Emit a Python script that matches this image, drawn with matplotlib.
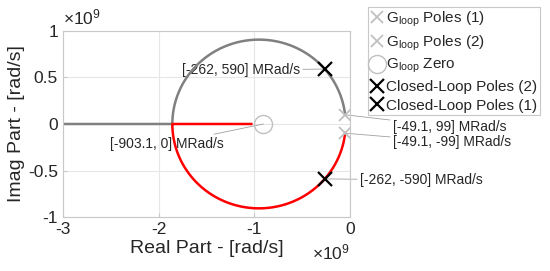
import numpy as np
import matplotlib
matplotlib.use('Agg')
import matplotlib.pyplot as plt

plt.rcParams.update({
    'font.family': ['Liberation Sans', 'DejaVu Sans'],
    'mathtext.fontset': 'custom',
    'mathtext.rm': 'Liberation Sans',
    'mathtext.it': 'Liberation Sans:italic',
    'axes.unicode_minus': False,
    'text.color': '#262626',
    'axes.labelcolor': '#262626',
    'xtick.color': '#262626',
    'ytick.color': '#262626',
})

# open-loop poles / zero (rad/s)
loop_pole = complex(-49.1e6, 99e6)
loop_zero = -903.1e6
# zero of the locus equation (circle centre)
locus_zero = -950e6
gain_max = 12.15e9

# chosen closed-loop poles (rad/s)
cl_pole = complex(-262e6, 590e6)

# axis ticks
x_ticks = [-3e9, -2e9, -1e9, 0]
x_ticklabels = ['-3', '-2', '-1', '0']
y_ticks = [-1e9, -0.5e9, 0, 0.5e9, 1e9]
y_ticklabels = ['-1', '-0.5', '0', '0.5', '1']

# data labels
ann_labels = ['[-262, 590] MRad/s', '[-903.1, 0] MRad/s', '[-49.1, 99] MRad/s',
              '[-49.1, -99] MRad/s', '[-262, -590] MRad/s']

# root locus: (s-p)(s-p*) + K (s - z) = 0
a1 = -2 * loop_pole.real
a0 = abs(loop_pole) ** 2
# break-in gain (double root)
kb = max(np.roots([1.0, 2 * a1 + 4 * locus_zero, a1 ** 2 - 4 * a0]).real)
offs = kb * np.logspace(-8, 0, 800)
gains = np.concatenate([np.linspace(0, gain_max, 3000), kb - offs[offs < kb], kb + offs, [kb]])
gains = np.sort(np.unique(gains[(gains >= 0) & (gains <= gain_max)]))
br1, br2 = [], []
for k in gains:
    r = np.roots([1.0, a1 + k, a0 - k * locus_zero])
    if abs(r[0].imag) > 1e-3:
        r = sorted(r, key=lambda c: -c.imag)
    else:
        r = sorted(r.real)
    br1.append(r[0])
    br2.append(r[1])
br1 = np.array(br1, dtype=complex)
br2 = np.array(br2, dtype=complex)

fig = plt.figure(figsize=(5.5, 2.71), dpi=100)
ax = fig.add_axes([0.1145, 0.199, 0.5215, 0.687])

ax.plot(br1.real, br1.imag, color='#808080', lw=1.8, zorder=2, solid_joinstyle='round')
ax.plot(br2.real, br2.imag, color='red', lw=1.8, zorder=2, solid_joinstyle='round')

h1, = ax.plot(loop_pole.real, loop_pole.imag, 'x', color='#c0c0c0', ms=9, mew=1.3,
              label=r'G$_{\rm loop}$ Poles (1)', zorder=3)
h2, = ax.plot(loop_pole.real, -loop_pole.imag, 'x', color='#c0c0c0', ms=9, mew=1.3,
              label=r'G$_{\rm loop}$ Poles (2)', zorder=3)
h3, = ax.plot(loop_zero, 0, 'o', mfc='none', mec='#c0c0c0', ms=13, mew=1.0,
              label=r'G$_{\rm loop}$ Zero', zorder=3)
h4, = ax.plot(cl_pole.real, -cl_pole.imag, 'x', color='black', ms=10, mew=1.6,
              label='Closed-Loop Poles (2)', zorder=4)
h5, = ax.plot(cl_pole.real, cl_pole.imag, 'x', color='black', ms=10, mew=1.6,
              label='Closed-Loop Poles (1)', zorder=4)

ax.set_xlim(-3e9, 0)
ax.set_ylim(-1e9, 1e9)
ax.set_xticks(x_ticks)
ax.set_xticklabels(x_ticklabels)
ax.set_yticks(y_ticks)
ax.set_yticklabels(y_ticklabels)
ax.grid(True, color='#e6e6e6', lw=0.8)
ax.set_axisbelow(True)
for s in ax.spines.values():
    s.set_color('#c8c8c8')
ax.tick_params(direction='in', length=3, labelsize=12.5, color='#c8c8c8')
ax.set_xlabel('Real Part - [rad/s]', fontsize=14, labelpad=2)
ax.set_ylabel('Imag Part - [rad/s]', fontsize=14, labelpad=2)

# exponent labels
ax.text(0.0, 1.02, r'$\times10^{9}$', transform=ax.transAxes, fontsize=12.5,
        ha='left', va='bottom', color='#262626')
ax.text(1.0, -0.135, r'$\times10^{9}$', transform=ax.transAxes, fontsize=12.5,
        ha='right', va='top', color='#262626')

aprops = dict(arrowstyle='-', color='#a0a0a0', lw=0.6, shrinkA=0, shrinkB=0)
points = [(cl_pole.real, cl_pole.imag), (loop_zero, 0), (loop_pole.real, loop_pole.imag),
          (loop_pole.real, -loop_pole.imag), (cl_pole.real, -cl_pole.imag)]
text_pos = [(-0.52e9, 0.58e9, 'right'), (-2.51e9, -0.215e9, 'left'),
            (0.45e9, -0.032e9, 'left'), (0.45e9, -0.194e9, 'left'),
            (0.105e9, -0.60e9, 'left')]
for lab, pt, (tx, ty, ha) in zip(ann_labels, points, text_pos):
    ax.annotate(lab, xy=pt, xytext=(tx, ty), ha=ha, va='center', fontsize=10,
                arrowprops=aprops, annotation_clip=False, zorder=1)

leg = ax.legend(handles=[h1, h2, h3, h4, h5], loc='upper left',
                bbox_to_anchor=(0.669, 0.974), bbox_transform=fig.transFigure,
                fontsize=11, fancybox=False, framealpha=1, edgecolor='#c8c8c8',
                handlelength=0.9, handletextpad=0.15, labelspacing=0.3,
                borderpad=0.15, borderaxespad=0)
leg.get_frame().set_linewidth(0.8)

fig.savefig('out.png', dpi=100)
